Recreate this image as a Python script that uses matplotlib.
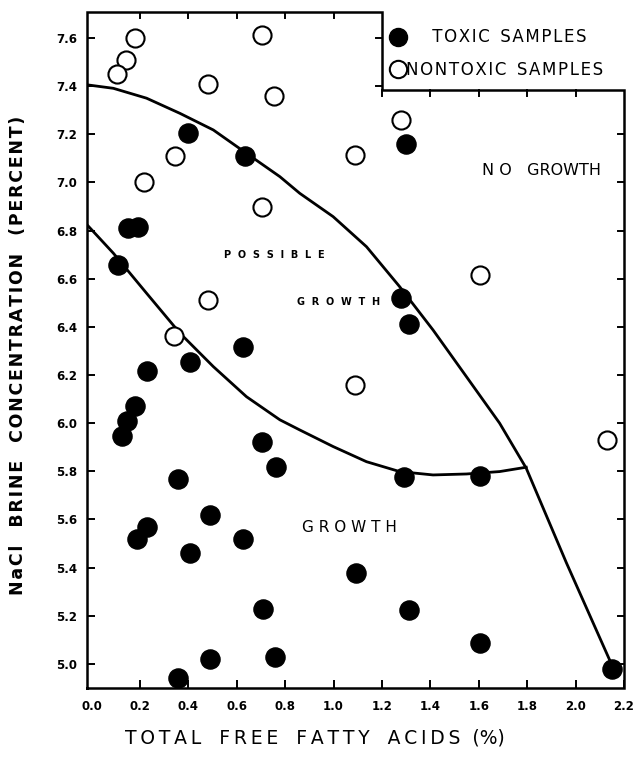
import numpy as np
import matplotlib
matplotlib.use("Agg")
import matplotlib.pyplot as plt
from matplotlib.lines import Line2D

plt.rcParams['font.family'] = ['DejaVu Sans']

# toxic samples (filled)
tox_x = [0.11, 0.15, 0.19, 0.40, 0.634, 0.627, 0.408, 0.23, 0.178, 0.145, 0.127,
         0.706, 0.76, 0.357, 0.49, 0.227, 0.186, 0.408, 0.624, 0.71, 0.49, 0.758,
         0.355, 1.094, 1.312, 1.607, 2.15, 1.29, 1.604, 1.28, 1.31, 1.30]
tox_y = [6.656, 6.81, 6.816, 7.204, 7.11, 6.317, 6.256, 6.215, 6.07, 6.008, 5.946,
         5.922, 5.82, 5.769, 5.617, 5.567, 5.518, 5.46, 5.518, 5.229, 5.019, 5.027,
         4.94, 5.377, 5.225, 5.085, 4.98, 5.777, 5.78, 6.52, 6.41, 7.16]

# nontoxic samples (open)
non_x = [0.178, 0.142, 0.105, 0.706, 0.483, 0.754, 0.343, 0.216, 0.704, 1.28,
         1.09, 0.483, 0.34, 1.603, 1.09, 2.13]
non_y = [7.60, 7.51, 7.452, 7.612, 7.41, 7.36, 7.11, 7.00, 6.90, 7.258,
         7.113, 6.511, 6.363, 6.614, 6.16, 5.93]

# boundary curves
upper_x = [-0.015, 0.09, 0.227, 0.365, 0.503, 0.64, 0.778, 0.86, 0.998, 1.136,
           1.273, 1.411, 1.549, 1.686, 1.796, 1.962, 2.17]
upper_y = [7.405, 7.391, 7.35, 7.287, 7.218, 7.121, 7.024, 6.955, 6.858, 6.733,
           6.567, 6.387, 6.193, 6.00, 5.813, 5.42, 4.95]
lower_x = [-0.015, 0.09, 0.227, 0.365, 0.503, 0.64, 0.778, 0.86, 0.998, 1.136,
           1.273, 1.411, 1.549, 1.686, 1.796]
lower_y = [6.82, 6.706, 6.54, 6.374, 6.235, 6.11, 6.014, 5.972, 5.903, 5.84,
           5.799, 5.785, 5.789, 5.799, 5.817]

xticks = [0.0, 0.2, 0.4, 0.6, 0.8, 1.0, 1.2, 1.4, 1.6, 1.8, 2.0, 2.2]
xticklabels = ['0.0', '0.2', '0.4', '0.6', '0.8', '1.0', '1.2', '1.4', '1.6', '1.8', '2.0', '2.2']
yticks = [5.0, 5.2, 5.4, 5.6, 5.8, 6.0, 6.2, 6.4, 6.6, 6.8, 7.0, 7.2, 7.4, 7.6]

xmin, xmax = -0.019, 2.2
ymin, ymax = 4.90, 7.708
xstep, ystep = 1.2, 7.386


def spaced(s, sep='\u200a'):
    return sep.join(s)


fig = plt.figure(figsize=(6.4, 7.67), dpi=100)
ax = fig.add_axes([87 / 640, 1 - 688 / 767, 537 / 640, 676 / 767])
ax.set_xlim(xmin, xmax)
ax.set_ylim(ymin, ymax)
for sp in ax.spines.values():
    sp.set_visible(False)

# stepped frame (legend sits in the cut-out)
fx = [xmin, xmin, xstep, xstep, xmax, xmax, xmin]
fy = [ymin, ymax, ymax, ystep, ystep, ymin, ymin]
ax.plot(fx, fy, color='black', lw=1.8, clip_on=False, zorder=4, solid_joinstyle='miter')

# ticks
ax.set_xticks(xticks)
ax.set_xticklabels(xticklabels)
ax.set_yticks(yticks)
ax.tick_params(direction='in', length=6, width=1.4, labelsize=8.5, pad=9)
ax.tick_params(axis='y', pad=7)
ax.xaxis.get_major_ticks()[0].tick1line.set_visible(False)
for lab in ax.get_xticklabels() + ax.get_yticklabels():
    lab.set_fontweight('bold')

tl_x = 6 / 242.0
tl_y = 6 / 241.0
for t in xticks[1:-1]:
    top = ymax if t < xstep else ystep
    ax.plot([t, t], [top, top - tl_y], color='black', lw=1.4, zorder=4)
for t in yticks:
    if t > ystep:
        ax.plot([xstep, xstep - tl_x], [t, t], color='black', lw=1.4, zorder=4, clip_on=False)
    else:
        ax.plot([xmax, xmax - tl_x], [t, t], color='black', lw=1.4, zorder=4, clip_on=False)

# curves
ax.plot(upper_x, upper_y, color='black', lw=2.0, zorder=2, solid_joinstyle='round')
ax.plot(lower_x, lower_y, color='black', lw=2.0, zorder=2, solid_joinstyle='round')

# points
ax.scatter(tox_x, tox_y, s=190, color='black', zorder=3, clip_on=False)
ax.scatter(non_x, non_y, s=170, facecolor='white', edgecolor='black', linewidth=1.5,
           zorder=3, clip_on=False)

# region labels
ax.text(1.86, 7.05, 'N O   GROWTH', fontsize=11.5, ha='center', va='center')
ax.text(0.755, 6.697, 'P  O  S  S  I  B  L  E', fontsize=7, fontweight='bold',
        ha='center', va='center')
ax.text(1.02, 6.503, 'G  R  O  W  T  H', fontsize=7, fontweight='bold', ha='center', va='center')
ax.text(1.066, 5.567, 'G R O W T H', fontsize=11, ha='center', va='center')

# legend
handles = [Line2D([], [], marker='o', ls='', color='black', markersize=13),
           Line2D([], [], marker='o', ls='', markerfacecolor='white', markeredgecolor='black',
                  markeredgewidth=1.5, markersize=12.5)]
labels = ['     ' + spaced('TOXIC') + '  ' + spaced('SAMPLES'),
          spaced('NONTOXIC') + '  ' + spaced('SAMPLES')]
ax.legend(handles, labels, loc='upper left', bbox_to_anchor=(0.545, 0.993), frameon=False,
          fontsize=12, handlelength=0.8, handletextpad=0.1, labelspacing=0.85,
          borderaxespad=0.3)

ax.set_xlabel(spaced('TOTAL', '\u2009') + '   ' + spaced('FREE', '\u2009') + '   '
              + spaced('FATTY', '\u2009') + '   ' + spaced('ACIDS', '\u2009') + '  (%)',
              fontsize=13.5)
ax.xaxis.set_label_coords((315 - 87) / 537, (688 - 738) / 676)
ax.xaxis.label.set_va('center')
ax.set_ylabel(spaced('NaCl') + '   ' + spaced('BRINE') + '   ' + spaced('CONCENTRATION') + '   '
              + spaced('(PERCENT)'), fontsize=12.5, fontweight='bold')
ax.yaxis.set_label_coords((18 - 87) / 537, (688 - 355) / 676)
ax.yaxis.label.set_va('center')

fig.savefig('out.png', dpi=100)
